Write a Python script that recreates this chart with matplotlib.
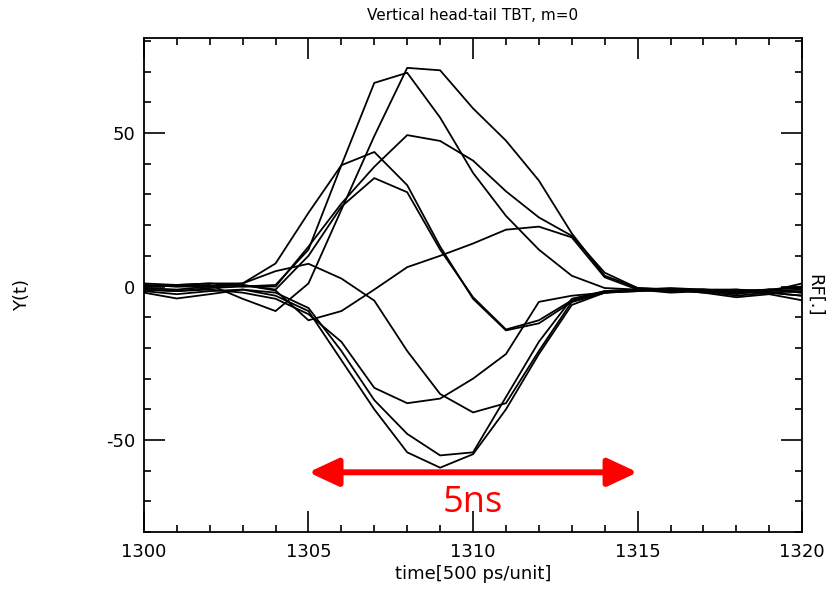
import numpy as np
import matplotlib
matplotlib.use("Agg")
import matplotlib.pyplot as plt
from matplotlib.ticker import MultipleLocator

plt.rcParams['font.family'] = ['DejaVu Sans']
plt.rcParams['axes.unicode_minus'] = False

# time axis, 500 ps per unit
t = np.arange(1300, 1321)

# head-tail traces (one row per turn)
p1 = [0.5, 0, 0.5, -4, -8, 1, 25, 49, 71.2, 70.4, 58, 47.5, 34.5, 17.3, 3.5, -0.5, -1, -1.5, -2, -1.5, 1]
p2 = [-1, -1.5, -0.5, 0, 0.5, 12, 39.5, 66.3, 69.6, 55, 37, 23, 12, 3.5, -0.5, -1, -0.5, -1, -1.5, -1, -0.5]
p3 = [0, 0.5, 1, 0, 0, 13, 27, 39, 49.3, 47.4, 41, 31, 22.5, 16.5, 4.5, -0.5, -1, -1, -2.5, -1, -2]
l3 = [1, 0.5, 1, 1, 7.5, 24, 39.5, 43.8, 33, 13, -4, -14.3, -12, -5, -2, -1, -1.5, -1, -1, -2, -3]
l4 = [-0.5, -1, 0, 0.5, -1, 10, 26, 35.3, 30.7, 12, -3.5, -14, -11, -4.5, -1.5, -1, -1, -1.5, -3, -2, -1.5]
n1 = [0.5, 0, 0, 0.5, -1.3, -11, -8, -1, 6.3, 10, 14, 18.5, 19.5, 16, 3, -1, -1.5, -1.5, -1, -1.5, -1]
n2 = [0, 0.5, 0, 1, 5, 7.4, 2.6, -4.6, -21, -35, -41, -38, -21, -5, -2, -1, -1, -2, -2, -1, 0]
d1 = [-2, -3.9, -2.5, -1, -3, -8, -24, -40, -54, -59, -54.6, -40, -22, -6, -2, -1.5, -1, -2, -3.5, -2.5, -4.5]
d2 = [-1.5, -2.5, -1.5, -1, -2, -7, -21, -37, -48, -55, -54, -36, -18, -4, -1.5, -1, -2, -1.5, -2, -2, -3]
d4 = [-1, -1.5, -1, -2, -4, -9, -18, -33, -38, -36.5, -30, -22, -5, -3, -2, -1.5, -1, -1, -1.5, -1, -2]
traces = [p1, p2, p3, l3, l4, n1, n2, d1, d2, d4]

fig = plt.figure(figsize=(8.27, 5.90), dpi=100)
ax = fig.add_axes([0.174, 0.098, 0.796, 0.838])

for y in traces:
    ax.plot(t, y, color='black', lw=1.3)

ax.set_xlim(1300, 1320)
ax.set_ylim(-80, 81)
ax.xaxis.set_major_locator(MultipleLocator(5))
ax.xaxis.set_minor_locator(MultipleLocator(1))
ax.yaxis.set_major_locator(MultipleLocator(50))
ax.yaxis.set_minor_locator(MultipleLocator(10))
ax.tick_params(which='both', direction='in', top=True, right=True, width=1.2)
ax.tick_params(which='major', length=15, labelsize=13, pad=8)
ax.tick_params(axis='y', which='major', labelsize=13, pad=6)
ax.tick_params(which='minor', length=5)
ax.tick_params(axis='y', labelright=False)
for s in ax.spines.values():
    s.set_linewidth(1.3)

ax.set_title('Vertical head-tail TBT, m=0', fontsize=11, pad=13)
ax.set_xlabel('time[500 ps/unit]', fontsize=13, labelpad=3)
fig.text(22 / 827, 0.5, 'Y(t)', rotation=90, ha='center', va='center', fontsize=13)
fig.text(815 / 827, 0.5, 'RF[.]', rotation=270, ha='center', va='center', fontsize=13)

# 5 ns marker
ax.annotate('', xy=(1305, -60.5), xytext=(1315, -60.5),
            arrowprops=dict(arrowstyle='<|-|>,head_length=0.9,head_width=0.42',
                            color='#ff0000', lw=4.3, mutation_scale=20, shrinkA=0, shrinkB=0))
ax.text(1310, -70.5, '5ns', color='#ff0000', fontsize=26, ha='center', va='center',
        family=['Open Sans', 'DejaVu Sans'])

fig.savefig('out.png', dpi=100)
